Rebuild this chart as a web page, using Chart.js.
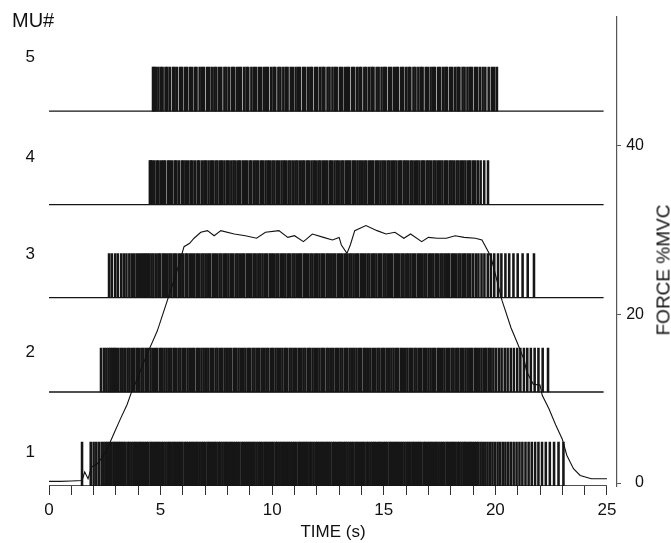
<!DOCTYPE html>
<html>
<head>
<meta charset="utf-8">
<script src="https://cdn.jsdelivr.net/npm/chart.js@4/dist/chart.umd.min.js"></script>
<style>
  body { margin: 0; background: #fff; }
  #wrap { position: relative; width: 671px; height: 543px; }
  .lbl { position: absolute; font-family: "Liberation Sans", Arial, sans-serif; color: #111; white-space: nowrap; }
  #mu { left: 12px; top: 10px; font-size: 20px; line-height: 20px; }
  #force { left: 663px; top: 270px; font-size: 19px; line-height: 19px; transform: translate(-50%, -50%) rotate(-90deg); }
</style>
</head>
<body>
<div id="wrap">
  <canvas id="myChart" width="671" height="543"></canvas>
  <div class="lbl" id="mu">MU#</div>
  <div class="lbl" id="force">FORCE %MVC</div>
</div>
<script>
// firing times (s) of each motor unit
var mu1Spikes = [1.48, 1.87, 2.00, 2.12, 2.24, 2.36, 2.45, 2.55, 2.63, 2.72, 2.80, 2.89, 2.96, 3.04, 3.12, 3.19,
    3.27, 3.35, 3.43, 3.53, 3.60, 3.69, 3.78, 3.86, 3.94, 4.04, 4.11, 4.20, 4.29, 4.37, 4.45, 4.55, 4.62, 4.71, 4.80, 4.88,
    4.96, 5.06, 5.13, 5.22, 5.31, 5.39, 5.47, 5.57, 5.64, 5.73, 5.82, 5.90, 5.98, 6.08, 6.15, 6.24, 6.33, 6.41, 6.49, 6.59,
    6.66, 6.75, 6.84, 6.92, 7.00, 7.10, 7.17, 7.26, 7.35, 7.43, 7.51, 7.61, 7.68, 7.77, 7.86, 7.94, 8.02, 8.12, 8.19, 8.28,
    8.37, 8.45, 8.53, 8.63, 8.70, 8.79, 8.88, 8.96, 9.04, 9.14, 9.21, 9.30, 9.39, 9.47, 9.55, 9.65, 9.72, 9.81, 9.90, 9.98,
    10.06, 10.16, 10.23, 10.32, 10.41, 10.49, 10.57, 10.67, 10.74, 10.83, 10.92, 11.00, 11.08, 11.18, 11.25, 11.34, 11.43,
    11.51, 11.59, 11.69, 11.76, 11.85, 11.94, 12.02, 12.10, 12.20, 12.27, 12.36, 12.45, 12.53, 12.61, 12.71, 12.78, 12.87,
    12.96, 13.04, 13.12, 13.22, 13.29, 13.38, 13.47, 13.55, 13.63, 13.73, 13.80, 13.89, 13.98, 14.06, 14.14, 14.24, 14.31,
    14.40, 14.49, 14.57, 14.65, 14.75, 14.82, 14.91, 15.00, 15.08, 15.16, 15.26, 15.33, 15.42, 15.51, 15.59, 15.67, 15.77,
    15.84, 15.93, 16.02, 16.10, 16.18, 16.28, 16.35, 16.44, 16.53, 16.61, 16.69, 16.79, 16.86, 16.95, 17.04, 17.12, 17.20,
    17.30, 17.37, 17.46, 17.55, 17.63, 17.71, 17.81, 17.88, 17.97, 18.06, 18.14, 18.22, 18.32, 18.39, 18.48, 18.57, 18.65,
    18.73, 18.83, 18.90, 18.99, 19.08, 19.16, 19.24,
    19.34, 19.44, 19.55, 19.65, 19.76, 19.87, 19.98, 20.10, 20.21, 20.33, 20.45, 20.57, 20.69, 20.82, 20.95, 21.08, 21.21,
    21.35, 21.49, 21.63, 21.78, 21.93, 22.09, 22.26, 22.44, 22.63, 22.83, 23.05];
var mu2Spikes = [2.33, 2.46, 2.57, 2.67, 2.76, 2.84, 2.92,
    3.00, 3.10, 3.21, 3.30, 3.41, 3.52, 3.61, 3.72, 3.82, 3.93, 4.02, 4.14, 4.23, 4.34, 4.44, 4.55, 4.65, 4.76, 4.85, 4.97,
    5.06, 5.17, 5.27, 5.38, 5.48, 5.59, 5.68, 5.80, 5.89, 6.00, 6.10, 6.21, 6.31, 6.42, 6.51, 6.63, 6.72, 6.83, 6.93, 7.04,
    7.14, 7.25, 7.34, 7.46, 7.55, 7.66, 7.76, 7.87, 7.97, 8.08, 8.17, 8.29, 8.38, 8.49, 8.59, 8.70, 8.80, 8.91, 9.00, 9.12,
    9.21, 9.32, 9.42, 9.53, 9.63, 9.74, 9.83, 9.95, 10.04, 10.15, 10.25, 10.36, 10.46, 10.57, 10.66, 10.78, 10.87, 10.98,
    11.08, 11.19, 11.29, 11.40, 11.49, 11.61, 11.70, 11.81, 11.91, 12.02, 12.12, 12.23, 12.32, 12.44, 12.53, 12.64, 12.74,
    12.85, 12.95, 13.06, 13.15, 13.27, 13.36, 13.47, 13.57, 13.68, 13.78, 13.89, 13.98, 14.10, 14.19, 14.30, 14.40, 14.51,
    14.61, 14.72, 14.81, 14.93, 15.02, 15.13, 15.23, 15.34, 15.44, 15.55, 15.64, 15.76, 15.85, 15.96, 16.06, 16.17, 16.27,
    16.38, 16.47, 16.59, 16.68, 16.79, 16.89, 17.00, 17.10, 17.21, 17.30, 17.42, 17.51, 17.62, 17.72, 17.83, 17.93, 18.04,
    18.13, 18.25, 18.34, 18.45, 18.55, 18.66, 18.76, 18.87, 18.96, 19.08, 19.17, 19.28, 19.38, 19.49, 19.59, 19.70, 19.79,
    19.91, 20.03, 20.16, 20.28, 20.42, 20.55, 20.69, 20.83, 20.98, 21.12, 21.28, 21.43, 21.59, 21.76, 21.93, 22.12, 22.36];
var mu3Spikes = [2.69, 2.81, 2.96, 3.08, 3.23, 3.35, 3.47, 3.60, 3.71, 3.82, 3.93, 4.03, 4.13, 4.22, 4.31, 4.40,
    4.49, 4.59, 4.68, 4.79, 4.90, 4.98, 5.10, 5.19, 5.30, 5.40, 5.49, 5.61, 5.69, 5.81, 5.90, 6.00, 6.12, 6.20, 6.31, 6.41,
    6.51, 6.62, 6.71, 6.83, 6.92, 7.02, 7.13, 7.22, 7.34, 7.43, 7.53, 7.64, 7.73, 7.85, 7.94, 8.04, 8.15, 8.24, 8.36, 8.45,
    8.55, 8.66, 8.75, 8.87, 8.96, 9.06, 9.17, 9.26, 9.38, 9.47, 9.57, 9.68, 9.77, 9.89, 9.98, 10.08, 10.19, 10.28, 10.40,
    10.49, 10.59, 10.70, 10.79, 10.91, 11.00, 11.10, 11.21, 11.30, 11.42, 11.51, 11.61, 11.72, 11.81, 11.93, 12.02, 12.12,
    12.23, 12.32, 12.44, 12.53, 12.63, 12.74, 12.83, 12.95, 13.04, 13.14, 13.25, 13.34, 13.46, 13.55, 13.65, 13.76, 13.85,
    13.97, 14.06, 14.16, 14.27, 14.36, 14.48, 14.57, 14.67, 14.78, 14.87, 14.99, 15.08, 15.18, 15.29, 15.38, 15.50, 15.59,
    15.69, 15.80, 15.89, 16.01, 16.10, 16.20, 16.31, 16.40, 16.52, 16.61, 16.71, 16.82, 16.91, 17.03, 17.12, 17.22, 17.33,
    17.42, 17.54, 17.63, 17.73, 17.84, 17.93, 18.05, 18.14, 18.24, 18.35, 18.44, 18.56, 18.65, 18.76, 18.87,
    18.99, 19.12, 19.24, 19.38, 19.51, 19.66, 19.80, 19.95, 20.12, 20.27, 20.45, 20.62, 20.81, 21.00, 21.22, 21.45, 21.73];
var mu4Spikes = [4.52, 4.56, 4.63, 4.72, 4.83, 4.91, 5.03, 5.12, 5.20, 5.33, 5.41, 5.52, 5.64, 5.71, 5.82, 5.95, 6.03,
    6.13, 6.24, 6.35, 6.43, 6.54, 6.66, 6.73, 6.85, 6.96, 7.04, 7.15, 7.26, 7.34, 7.46, 7.55, 7.67, 7.75, 7.86, 7.97, 8.05,
    8.17, 8.27, 8.36, 8.48, 8.56, 8.68, 8.78, 8.87, 8.99, 9.07, 9.19, 9.29, 9.38, 9.50, 9.58, 9.70, 9.80, 9.89, 10.01, 10.10,
    10.21, 10.31, 10.42, 10.52, 10.61, 10.73, 10.82, 10.93, 11.04, 11.13, 11.24, 11.35, 11.44, 11.56, 11.64, 11.76, 11.86,
    11.95, 12.07, 12.16, 12.27, 12.37, 12.47, 12.59, 12.67, 12.79, 12.89, 12.98, 13.10, 13.19, 13.31, 13.40, 13.50, 13.62,
    13.71, 13.82, 13.92, 14.02, 14.13, 14.22, 14.34, 14.43, 14.53, 14.65, 14.74, 14.85, 14.95, 15.05, 15.17, 15.26, 15.37,
    15.47, 15.57, 15.69, 15.77, 15.89, 15.98, 16.08, 16.20, 16.29, 16.40, 16.50, 16.60, 16.72, 16.80, 16.92, 17.01, 17.11,
    17.23, 17.32, 17.43, 17.53, 17.63, 17.75, 17.83, 17.95, 18.04, 18.14, 18.26, 18.35, 18.46, 18.56, 18.66, 18.78, 18.87,
    18.99, 19.09, 19.21, 19.34, 19.50, 19.67];
var mu5Spikes = [4.66, 4.71, 4.79, 4.90, 5.01, 5.09, 5.22, 5.30, 5.41, 5.55, 5.63, 5.74, 5.88, 5.96, 6.09, 6.18, 6.31,
    6.40, 6.53, 6.61, 6.75, 6.86, 6.94, 7.08, 7.17, 7.29, 7.41, 7.50, 7.63, 7.72, 7.86, 7.95, 8.07, 8.20, 8.28, 8.41, 8.52,
    8.60, 8.74, 8.85, 8.93, 9.07, 9.18, 9.27, 9.40, 9.49, 9.62, 9.73, 9.81, 9.95, 10.06, 10.14, 10.28, 10.37, 10.50, 10.61,
    10.69, 10.83, 10.92, 11.05, 11.16, 11.24, 11.38, 11.47, 11.60, 11.71, 11.79, 11.93, 12.02, 12.15, 12.26, 12.34, 12.48,
    12.57, 12.70, 12.81, 12.89, 13.03, 13.12, 13.25, 13.36, 13.44, 13.58, 13.67, 13.80, 13.91, 13.99, 14.13, 14.22, 14.35,
    14.46, 14.54, 14.68, 14.77, 14.90, 15.01, 15.09, 15.23, 15.32, 15.45, 15.56, 15.64, 15.78, 15.87, 16.00, 16.11, 16.19,
    16.33, 16.42, 16.55, 16.66, 16.74, 16.88, 16.97, 17.10, 17.21, 17.29, 17.43, 17.52, 17.65, 17.76, 17.84, 17.98, 18.07,
    18.20, 18.31, 18.39, 18.53, 18.62, 18.75, 18.86, 18.94, 19.08, 19.17, 19.30, 19.43, 19.55, 19.70, 19.84, 19.95, 20.07];
var muLabels = ['1', '2', '3', '4', '5'];

// force trace (%MVC)
var forceTime = [0, 0.5, 1.0, 1.48, 1.6, 1.75, 1.9, 2.15, 2.4, 2.6, 2.9, 3.2, 3.5, 3.7, 3.95, 4.2, 4.4, 4.85, 5.3, 5.7,
    6.05, 6.3, 6.5, 6.8, 7.1, 7.4, 7.7, 8.3, 8.8, 9.3, 9.7, 10.3, 10.7, 11.0, 11.4, 11.8, 12.3, 12.7, 13.0, 13.1, 13.35,
    13.5, 13.7, 14.2, 14.7, 15.1, 15.5, 15.9, 16.2, 16.7, 17.0, 17.4, 17.8, 18.2, 18.6, 19.1, 19.4, 19.6, 19.8, 20.3, 20.7,
    21.0, 21.3, 21.4, 21.7, 22.0, 22.1, 22.4, 22.7, 23.0, 23.2, 23.5, 23.8, 24.3, 25.0];
var forceValue = [0.2, 0.2, 0.25, 0.3, 1.3, 0.5, 1.9, 2.25, 3.1, 4.0, 5.8, 7.6, 9.3, 10.8, 12.3, 14.0, 15.3, 18.0, 21.6, 24.8,
    28.0, 28.4, 29.0, 29.7, 29.9, 29.3, 29.9, 29.5, 29.3, 29.0, 29.7, 29.9, 29.1, 29.3, 28.6, 29.5, 29.1, 28.8, 29.1, 28.2, 27.2,
    28.2, 29.9, 30.5, 29.9, 29.5, 29.7, 29.0, 29.5, 28.6, 29.1, 29.0, 29.0, 29.3, 29.1, 29.0, 28.8, 27.8, 26.8, 21.6, 18.4,
    16.5, 14.5, 13.2, 11.7, 11.6, 10.4, 8.8, 6.9, 5.2, 3.3, 1.7, 0.9, 0.5, 0.5];

var timeTicks = [0, 1, 2, 3, 4, 5, 6, 7, 8, 9, 10, 11, 12, 13, 14, 15, 16, 17, 18, 19, 20, 21, 22, 23, 24, 25];
var forceTicks = [0, 20, 40];

// row layout on the raster axis (0 = time axis line)
var rowBase = [0, 9.4, 18.85, 28.15, 37.5];
var rowLabelPos = [3.4, 13.4, 23.2, 32.9, 42.9];
var spikeHeight = 4.4;

function main() {
    var font = "'Liberation Sans', Arial, sans-serif";
    var spikeSets = [mu1Spikes, mu2Spikes, mu3Spikes, mu4Spikes, mu5Spikes];
    var datasets = [];

    spikeSets.forEach(function (spikes, i) {
        datasets.push({
            type: 'bar',
            yAxisID: 'mu',
            grouped: false,
            order: 3,
            data: spikes.map(function (t) { return {x: t, y: [rowBase[i], rowBase[i] + spikeHeight]}; }),
            backgroundColor: '#161616',
            barThickness: 1.9,
            borderWidth: 0
        });
        datasets.push({
            type: 'line',
            yAxisID: 'mu',
            order: 2,
            data: [{x: 0, y: rowBase[i]}, {x: i === 0 ? 25 : 24.85, y: rowBase[i]}],
            borderColor: '#151515',
            borderWidth: 1.4,
            pointRadius: 0
        });
    });

    datasets.push({
        type: 'line',
        yAxisID: 'force',
        order: 1,
        data: forceTime.map(function (t, i) { return {x: t, y: forceValue[i]}; }),
        borderColor: '#111',
        borderWidth: 1.1,
        pointRadius: 0,
        tension: 0
    });

    var ctx = document.getElementById('myChart').getContext('2d');
    new Chart(ctx, {
        type: 'line',
        data: {datasets: datasets},
        options: {
            responsive: false,
            animation: false,
            layout: {padding: {top: 16, right: 27, bottom: 0, left: 0}},
            plugins: {legend: {display: false}, tooltip: {enabled: false}},
            scales: {
                x: {
                    type: 'linear', min: 0, max: 25.45, offset: false,
                    afterBuildTicks: function (s) { s.ticks = timeTicks.map(function (v) { return {value: v}; }); },
                    afterFit: function (s) { s.height = 57; },
                    grid: {display: true, drawOnChartArea: false, drawTicks: true, tickLength: 9, color: '#333', offset: false},
                    border: {display: false},
                    ticks: {
                        autoSkip: false, maxRotation: 0, padding: 5, color: '#111',
                        font: {family: font, size: 17},
                        callback: function (v) { return v % 5 === 0 ? String(v) : ''; }
                    },
                    title: {display: true, text: 'TIME (s)', color: '#111', font: {family: font, size: 17}, padding: {top: 0, bottom: 0}}
                },
                mu: {
                    type: 'linear', position: 'left', min: 0, max: 47,
                    afterBuildTicks: function (s) { s.ticks = rowLabelPos.map(function (v) { return {value: v}; }); },
                    afterFit: function (s) { s.width = 49; },
                    grid: {display: false},
                    border: {display: false},
                    ticks: {
                        padding: 6, color: '#111', font: {family: font, size: 17},
                        callback: function (v, i) { return muLabels[i]; }
                    }
                },
                force: {
                    type: 'linear', position: 'right', min: -0.35, max: 55.3,
                    afterBuildTicks: function (s) { s.ticks = forceTicks.map(function (v) { return {value: v}; }); },
                    afterFit: function (s) { s.width = 27; },
                    grid: {display: true, drawOnChartArea: false, tickLength: 4, color: '#555'},
                    border: {display: true, color: '#555', width: 1.2},
                    ticks: {
                        crossAlign: 'far', padding: 3, color: '#111', font: {family: font, size: 16},
                        callback: function (v) { return String(v); }
                    }
                }
            }
        }
    });
}

main();
</script>
</body>
</html>
